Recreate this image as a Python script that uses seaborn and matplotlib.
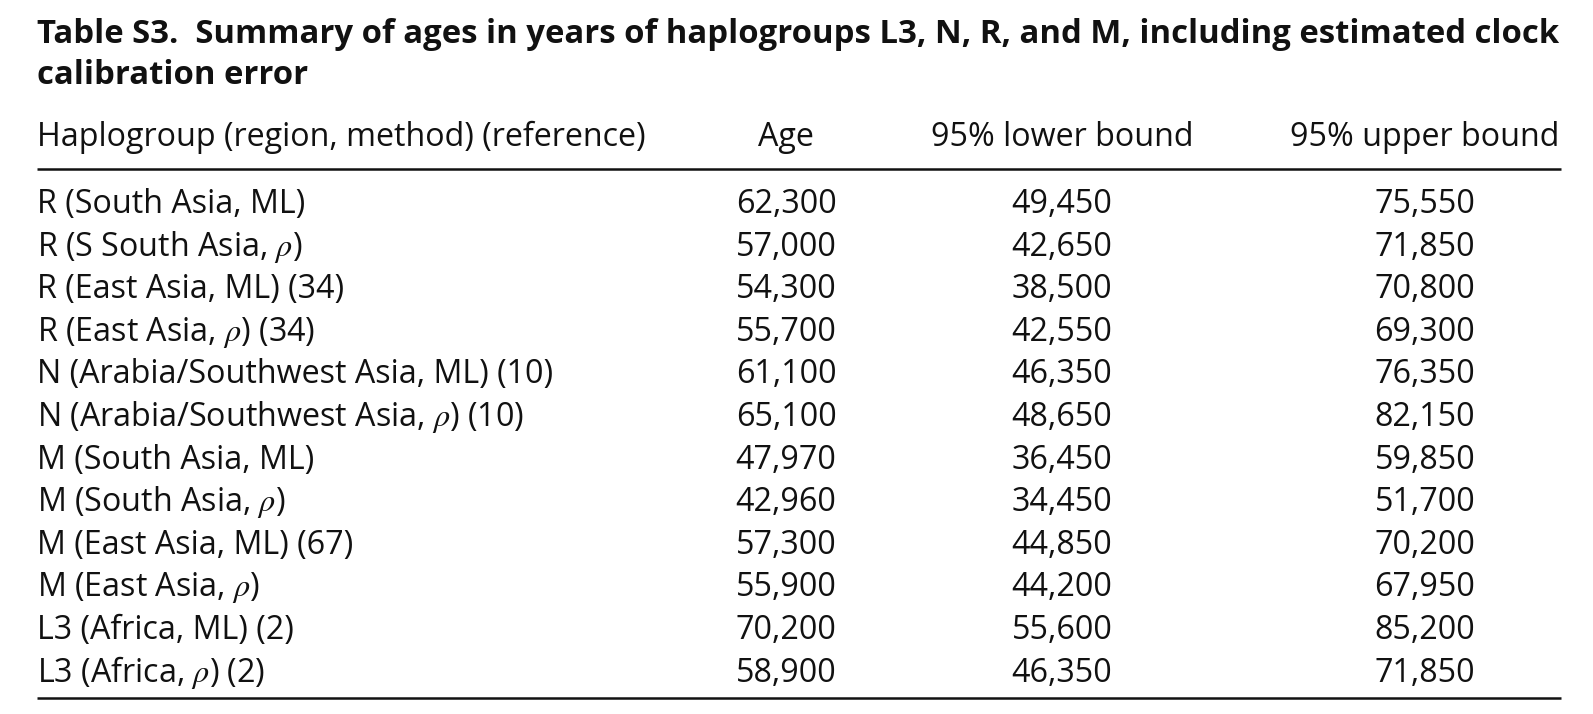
import matplotlib
matplotlib.use("Agg")
import matplotlib.pyplot as plt
import seaborn as sns

# ---- data ----
title_line1 = "Table S3.  Summary of ages in years of haplogroups L3, N, R, and M, including estimated clock"
title_line2 = "calibration error"
col_headers = ["Haplogroup (region, method) (reference)", "Age", "95% lower bound", "95% upper bound"]
haplogroups = [
    "R (South Asia, ML)",
    r"R (S South Asia, $\rho$)",
    "R (East Asia, ML) (34)",
    r"R (East Asia, $\rho$) (34)",
    "N (Arabia/Southwest Asia, ML) (10)",
    r"N (Arabia/Southwest Asia, $\rho$) (10)",
    "M (South Asia, ML)",
    r"M (South Asia, $\rho$)",
    "M (East Asia, ML) (67)",
    r"M (East Asia, $\rho$)",
    "L3 (Africa, ML) (2)",
    r"L3 (Africa, $\rho$) (2)",
]
ages = [62300, 57000, 54300, 55700, 61100, 65100, 47970, 42960, 57300, 55900, 70200, 58900]
lower_bound = [49450, 42650, 38500, 42550, 46350, 48650, 36450, 34450, 44850, 44200, 55600, 46350]
upper_bound = [75550, 71850, 70800, 69300, 76350, 82150, 59850, 51700, 70200, 67950, 85200, 71850]

# ---- style ----
sns.set_theme(style="white")
FONT = "Open Sans"
plt.rcParams["font.family"] = [FONT, "DejaVu Sans"]
plt.rcParams["mathtext.fontset"] = "stix"

W, H = 1593, 714
fig = plt.figure(figsize=(W / 100, H / 100), dpi=100)
ax = fig.add_axes([0, 0, 1, 1])
ax.set_xlim(0, W)
ax.set_ylim(H, 0)
ax.set_axis_off()
sns.despine(ax=ax, left=True, bottom=True)

renderer = fig.canvas.get_renderer()

def fit_size(text, width, weight="normal"):
    t = ax.text(0, 0, text, fontsize=10, fontweight=weight)
    w = t.get_window_extent(renderer).width
    t.remove()
    return 10 * width / w

left, right = 37, 1561
body_size = fit_size(col_headers[0], 608)
title_size = fit_size(title_line1, right - left, "bold")

ink = "#111111"
# title
ax.text(left, 43, title_line1, fontsize=title_size, fontweight="bold", va="baseline", ha="left", color=ink)
ax.text(left, 84, title_line2, fontsize=title_size, fontweight="bold", va="baseline", ha="left", color=ink)

# header
col_x = [left, 786, 1062, 1425]
header_base = 146
ax.text(col_x[0], header_base, col_headers[0], fontsize=body_size, va="baseline", ha="left", color=ink)
for x, h in zip(col_x[1:], col_headers[1:]):
    ax.text(x, header_base, h, fontsize=body_size, va="baseline", ha="center", color=ink)

# rules
ax.hlines([169, 698], left, right, colors=ink, linewidth=1.8)

# rows
first_base, step = 213, 42.6
for i, (lab, a, lo, up) in enumerate(zip(haplogroups, ages, lower_bound, upper_bound)):
    y = first_base + i * step
    ax.text(col_x[0], y, lab, fontsize=body_size, va="baseline", ha="left", color=ink)
    for x, v in zip(col_x[1:], (a, lo, up)):
        ax.text(x, y, f"{v:,}", fontsize=body_size, va="baseline", ha="center", color=ink)

fig.savefig("out.png", dpi=100, facecolor="white")
